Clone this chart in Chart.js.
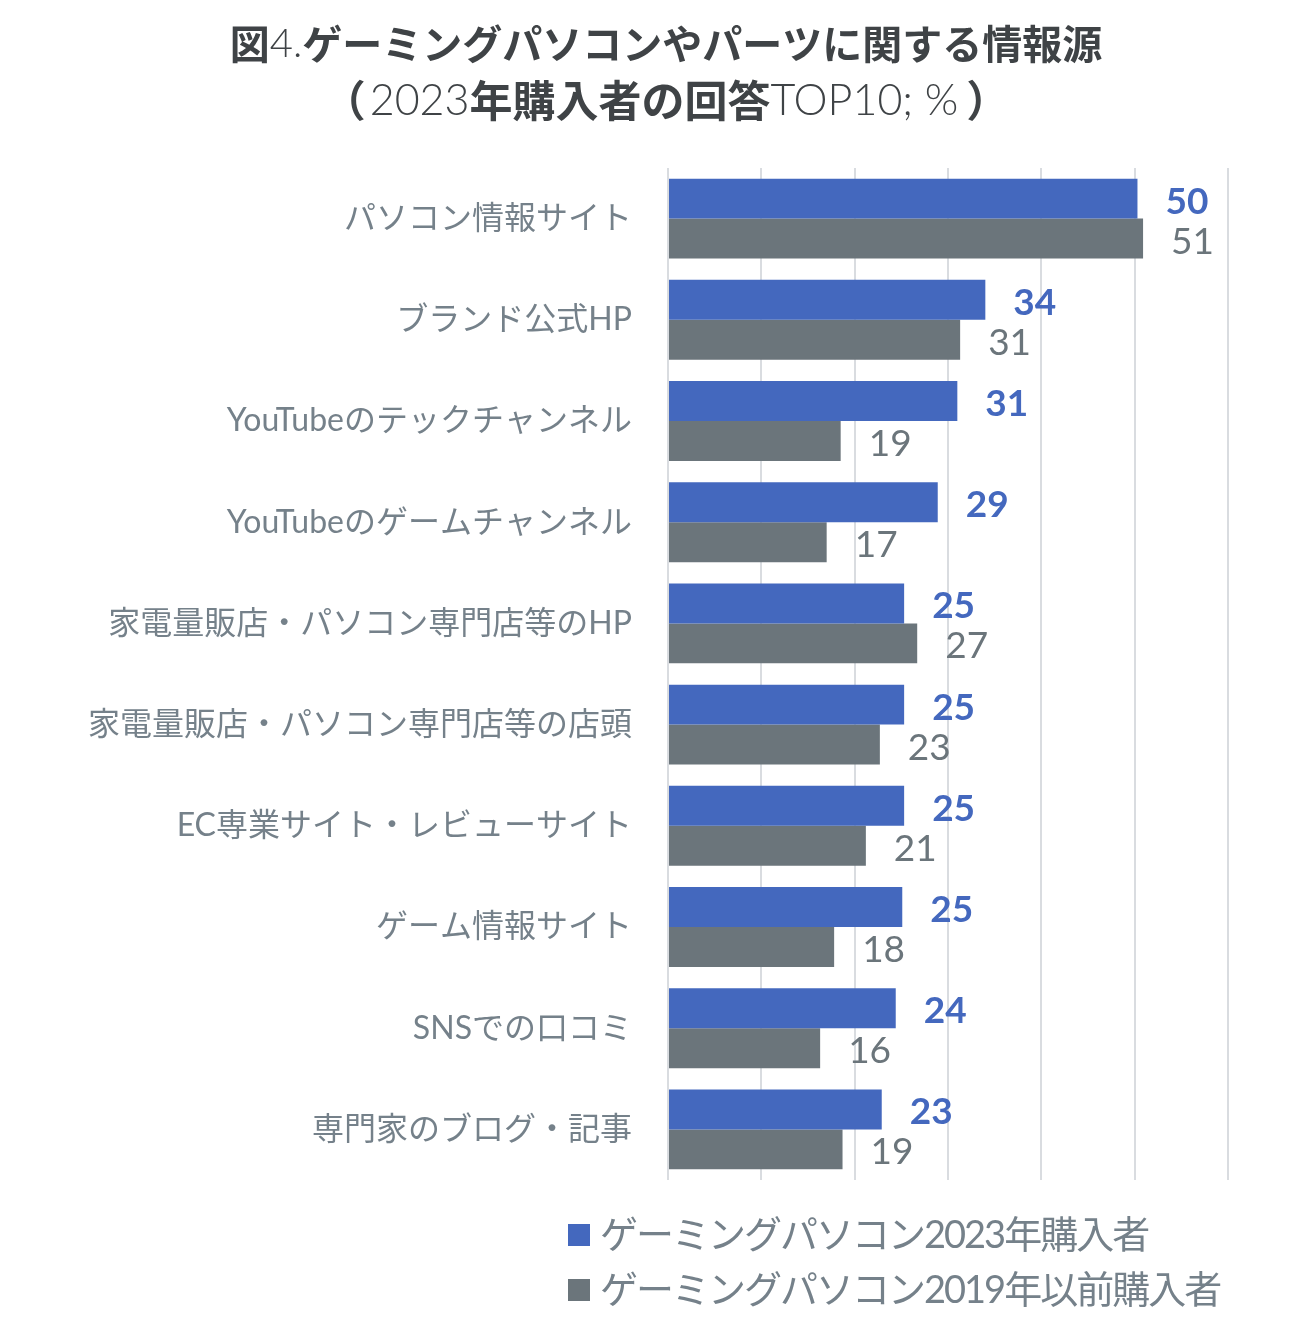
<!DOCTYPE html>
<html lang="ja">
<head>
<meta charset="utf-8">
<script src="https://cdn.jsdelivr.net/npm/chart.js@4.4.1/dist/chart.umd.min.js"></script>
<style>
  html, body { margin: 0; padding: 0; background: #fff; }
  #wrap { width: 1308px; height: 1318px; position: relative; }
</style>
</head>
<body>
<div id="wrap"><canvas id="chart"></canvas></div>
<script>
// Categories and values (percent)
const categories = [
    'パソコン情報サイト',
    'ブランド公式HP',
    'YouTubeのテックチャンネル',
    'YouTubeのゲームチャンネル',
    '家電量販店・パソコン専門店等のHP',
    '家電量販店・パソコン専門店等の店頭',
    'EC専業サイト・レビューサイト',
    'ゲーム情報サイト',
    'SNSでの口コミ',
    '専門家のブログ・記事'
];
const buyers2023 = [50.3, 34.0, 31.0, 28.9, 25.3, 25.3, 25.3, 25.1, 24.4, 22.9];
const buyers2019 = [50.9, 31.3, 18.5, 17.0, 26.7, 22.7, 21.2, 17.8, 16.3, 18.7];
const seriesNames = ['ゲーミングパソコン2023年購入者', 'ゲーミングパソコン2019年以前購入者'];
const xTicks = [0, 10, 20, 30, 40, 50, 60];

const BLUE = '#4468be';
const GRAY = '#6b757b';
const LABEL_GRAY = '#75818a';
const TITLE_COLOR = '#3f4346';
const CJK = '"Noto Sans CJK JP", sans-serif';
const LATIN = 'Lato, "Noto Sans CJK JP", sans-serif';

// Title with mixed weights, drawn segment by segment
const titleLines = [
    { y: 44, parts: [
        { text: '図', font: '700 40px ' + CJK },
        { text: '4.', font: '300 40px ' + LATIN },
        { text: 'ゲーミングパソコンやパーツに関する情報源', font: '700 40px ' + CJK }
    ]},
    { y: 101, parts: [
        { text: '（', font: '700 43px ' + CJK, lead: 16, pad: 4 },
        { text: '2023', font: '300 43px ' + LATIN },
        { text: '年購入者の回答', font: '700 43px ' + CJK },
        { text: 'TOP10; %', font: '300 43px ' + LATIN, pad: 8 },
        { text: '）', font: '700 43px ' + CJK, pad: 16 }
    ]}
];

const titlePlugin = {
    id: 'mixedTitle',
    afterDraw(chart) {
        const ctx = chart.ctx;
        ctx.save();
        ctx.fillStyle = TITLE_COLOR;
        ctx.textBaseline = 'middle';
        ctx.textAlign = 'left';
        titleLines.forEach(line => {
            let total = 0;
            line.parts.forEach(p => {
                ctx.font = p.font;
                total += (p.lead || 0) + ctx.measureText(p.text).width + (p.pad || 0);
            });
            let x = 666 - total / 2;
            line.parts.forEach(p => {
                ctx.font = p.font;
                x += p.lead || 0;
                ctx.fillText(p.text, x, line.y);
                x += ctx.measureText(p.text).width + (p.pad || 0);
            });
        });
        ctx.restore();
    }
};

// Value labels to the right of each bar
const valueLabelPlugin = {
    id: 'valueLabels',
    afterDatasetsDraw(chart) {
        const ctx = chart.ctx;
        ctx.save();
        ctx.textAlign = 'left';
        ctx.textBaseline = 'middle';
        chart.data.datasets.forEach((ds, di) => {
            const meta = chart.getDatasetMeta(di);
            ctx.font = (di === 0 ? '700 ' : '400 ') + '37px ' + LATIN;
            ctx.fillStyle = ds.backgroundColor;
            meta.data.forEach((bar, i) => {
                ctx.fillText(Math.round(ds.data[i]).toString(), bar.x + 28, bar.y + 3);
            });
        });
        ctx.restore();
    }
};

// Legend stacked in two left-aligned rows
const legendPlugin = {
    id: 'stackedLegend',
    afterDraw(chart) {
        const ctx = chart.ctx;
        ctx.save();
        ctx.textAlign = 'left';
        ctx.textBaseline = 'middle';
        ctx.font = '400 38px ' + LATIN;
        ctx.letterSpacing = '-2px';
        chart.data.datasets.forEach((ds, di) => {
            const y = 1235 + di * 55;
            ctx.fillStyle = ds.backgroundColor;
            ctx.fillRect(568, y - 11, 22, 22);
            ctx.fillStyle = LABEL_GRAY;
            ctx.fillText(ds.label, 600, y + 1);
        });
        ctx.restore();
    }
};

new Chart(document.getElementById('chart'), {
    type: 'bar',
    data: {
        labels: categories,
        datasets: [
            { label: seriesNames[0], data: buyers2023, backgroundColor: BLUE },
            { label: seriesNames[1], data: buyers2019, backgroundColor: GRAY }
        ]
    },
    options: {
        indexAxis: 'y',
        responsive: true,
        maintainAspectRatio: false,
        animation: false,
        layout: { padding: { top: 168, bottom: 138, right: 80, left: 0 } },
        plugins: {
            legend: { display: false },
            title: { display: false },
            tooltip: { enabled: false }
        },
        datasets: {
            bar: { categoryPercentage: 0.79, barPercentage: 1.0 }
        },
        scales: {
            x: {
                min: 0,
                max: 60,
                afterBuildTicks: scale => { scale.ticks = xTicks.map(v => ({ value: v })); },
                ticks: { display: false },
                grid: { color: '#d9dce0', lineWidth: 2, drawTicks: false },
                border: { display: false }
            },
            y: {
                afterFit: scale => { scale.width = 668; },
                ticks: {
                    color: LABEL_GRAY,
                    font: { family: LATIN, size: 32, weight: '400' },
                    padding: 36
                },
                grid: { display: false, drawTicks: false },
                border: { display: false }
            }
        }
    },
    plugins: [titlePlugin, valueLabelPlugin, legendPlugin]
});
</script>
</body>
</html>
